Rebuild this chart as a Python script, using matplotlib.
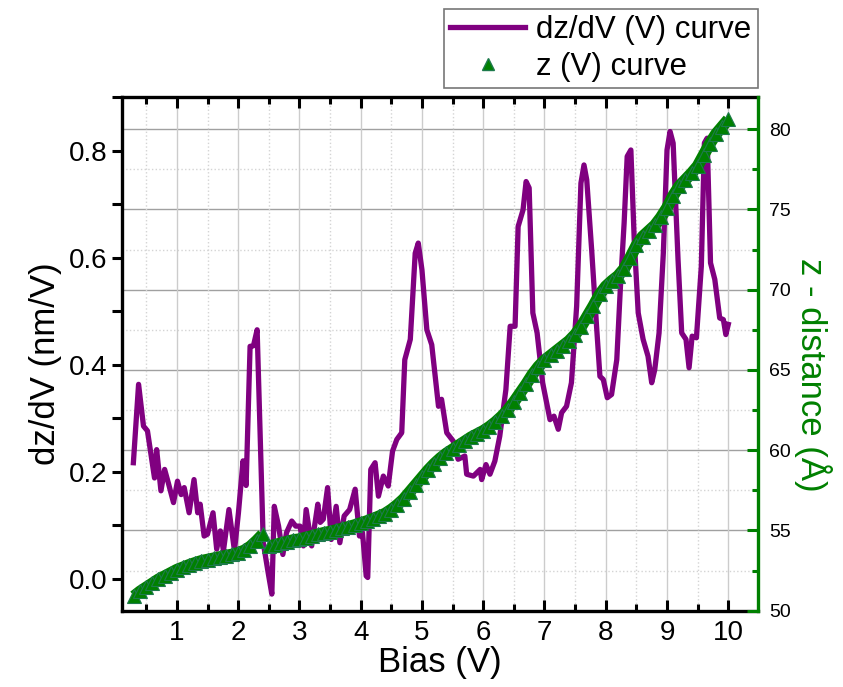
import matplotlib
matplotlib.use("Agg")
import matplotlib.pyplot as plt
from matplotlib.ticker import MultipleLocator
from matplotlib.lines import Line2D

plt.rcParams['font.family'] = ['Liberation Sans', 'DejaVu Sans']

# dz/dV (V) curve
bias_d = [0.29, 0.375, 0.455, 0.52, 0.59, 0.635, 0.67, 0.74, 0.80, 0.86, 0.945,
          1.01, 1.07, 1.12, 1.20, 1.28, 1.34, 1.38, 1.445, 1.50, 1.59, 1.65, 1.71,
          1.76, 1.85, 1.94, 2.005, 2.08, 2.13, 2.195, 2.25, 2.31, 2.41, 2.49, 2.55,
          2.59, 2.66, 2.73, 2.79, 2.875, 2.94, 3.01, 3.065, 3.11, 3.20, 3.30, 3.34,
          3.39, 3.46, 3.52, 3.60, 3.66, 3.73, 3.82, 3.91, 3.98, 4.03, 4.09, 4.115,
          4.165, 4.235, 4.29, 4.37, 4.45, 4.52, 4.59, 4.67, 4.72, 4.81, 4.89, 4.94,
          5.00, 5.08, 5.16, 5.27, 5.32, 5.405, 5.51, 5.59, 5.70, 5.73, 5.84, 5.95,
          5.975, 6.045, 6.11, 6.19, 6.27, 6.37, 6.44, 6.52, 6.57, 6.65, 6.70, 6.75,
          6.81, 6.88, 6.97, 7.09, 7.155, 7.225, 7.28, 7.36, 7.44, 7.525, 7.595,
          7.645, 7.69, 7.77, 7.85, 7.905, 7.96, 8.025, 8.095, 8.18, 8.24, 8.30,
          8.35, 8.41, 8.465, 8.53, 8.61, 8.69, 8.75, 8.80, 8.87, 8.94, 9.00, 9.05,
          9.10, 9.18, 9.24, 9.31, 9.36, 9.41, 9.48, 9.56, 9.61, 9.655, 9.71, 9.78,
          9.86, 9.92, 9.96, 10.0]
dzdv = [0.2165, 0.363, 0.285, 0.276, 0.223, 0.188, 0.241, 0.164, 0.204, 0.179, 0.142,
        0.182, 0.157, 0.170, 0.123, 0.185, 0.123, 0.139, 0.0795, 0.083, 0.123, 0.055, 0.089,
        0.052, 0.129, 0.052, 0.123, 0.220, 0.174, 0.434, 0.435, 0.465, 0.067, 0.011, -0.029,
        0.135, 0.098, 0.045, 0.086, 0.1075, 0.098, 0.098, 0.061, 0.129, 0.061, 0.139, 0.105,
        0.111, 0.170, 0.073, 0.135, 0.067, 0.117, 0.129, 0.167, 0.0795, 0.086, 0.005, 0.002,
        0.204, 0.2165, 0.154, 0.1915, 0.173, 0.238, 0.260, 0.2725, 0.409, 0.447, 0.608, 0.627,
        0.577, 0.465, 0.437, 0.322, 0.335, 0.2725, 0.257, 0.223, 0.229, 0.195, 0.1915, 0.204,
        0.185, 0.213, 0.195, 0.2195, 0.266, 0.353, 0.4715, 0.4715, 0.658, 0.689, 0.742, 0.730,
        0.4965, 0.459, 0.366, 0.297, 0.3035, 0.279, 0.310, 0.322, 0.366, 0.509, 0.739,
        0.773, 0.745, 0.6145, 0.4715, 0.378, 0.372, 0.338, 0.344, 0.409, 0.546, 0.6645,
        0.789, 0.801, 0.633, 0.4965, 0.447, 0.4155, 0.366, 0.3905, 0.459, 0.6085, 0.801, 0.8355,
        0.8138, 0.596, 0.459, 0.447, 0.394, 0.453, 0.450, 0.5835, 0.814, 0.823, 0.590, 0.559,
        0.487, 0.484, 0.456, 0.475]

# z (V) curve
bias_z = [0.3, 0.4, 0.5, 0.6, 0.7, 0.8, 0.9, 1.0, 1.1, 1.2, 1.3, 1.4, 1.5, 1.6, 1.7,
          1.8, 1.9, 2.0, 2.1, 2.2, 2.3, 2.4, 2.5, 2.6, 2.7, 2.8, 2.9, 3.0, 3.1, 3.2,
          3.3, 3.4, 3.5, 3.6, 3.7, 3.8, 3.9, 4.0, 4.1, 4.2, 4.3, 4.4, 4.5, 4.6, 4.7,
          4.8, 4.9, 5.0, 5.1, 5.2, 5.3, 5.4, 5.5, 5.6, 5.7, 5.8, 5.9, 6.0, 6.1, 6.2,
          6.3, 6.4, 6.5, 6.6, 6.7, 6.8, 6.9, 7.0, 7.1, 7.2, 7.3, 7.4, 7.5, 7.6, 7.7,
          7.8, 7.9, 8.0, 8.1, 8.2, 8.3, 8.4, 8.5, 8.6, 8.7, 8.8, 8.9, 9.0, 9.1, 9.2,
          9.3, 9.4, 9.5, 9.6, 9.7, 9.8, 9.9, 10.0]
z_dist = [50.9, 51.2, 51.45, 51.7, 51.95, 52.15, 52.35, 52.55, 52.7, 52.85, 52.98, 53.1,
          53.18, 53.26, 53.34, 53.42, 53.5, 53.6, 53.75, 54.0, 54.35, 54.75, 54.0, 54.1,
          54.2, 54.3, 54.4, 54.45, 54.55, 54.65, 54.75, 54.85, 54.92, 55.02, 55.12, 55.22,
          55.33, 55.45, 55.58, 55.72, 55.88, 56.05, 56.3, 56.6, 56.95, 57.4, 57.85, 58.3,
          58.75, 59.15, 59.5, 59.8, 60.05, 60.3, 60.55, 60.8, 61.0, 61.2, 61.45, 61.75,
          62.1, 62.5, 63.0, 63.55, 64.1, 64.7, 65.2, 65.6, 65.9, 66.2, 66.5, 66.8, 67.2,
          67.7, 68.35, 69.0, 69.7, 70.2, 70.55, 70.85, 71.3, 72.0, 72.75, 73.3, 73.65,
          74.0, 74.5, 75.1, 75.85, 76.45, 76.85, 77.25, 77.7, 78.4, 79.1, 79.7, 80.15, 80.6]
jump = 22  # the z sweep restarts here

purple = '#800080'
green = '#008000'

fig = plt.figure(figsize=(8.43, 6.87), dpi=100)
ax1 = fig.add_axes([0.1444, 0.1111, 0.7544, 0.7477])
ax2 = ax1.twinx()

ax1.set_xlim(0.1, 10.48)
ax1.set_ylim(-0.06, 0.9)
ax2.set_ylim(50, 82)

# grid: vertical from bias ticks, horizontal from the right axis ticks
ax1.xaxis.set_major_locator(MultipleLocator(1))
ax1.xaxis.set_minor_locator(MultipleLocator(0.5))
ax1.grid(axis='x', which='major', color='#cccccc', lw=1.0, zorder=0)
ax1.grid(axis='x', which='minor', color='#d4d4d4', lw=1.0, ls=':', zorder=0)
ax2.yaxis.set_major_locator(MultipleLocator(5))
ax2.yaxis.set_minor_locator(MultipleLocator(2.5))
lo1, hi1 = ax1.get_ylim()
lo2, hi2 = ax2.get_ylim()
for t in ax2.get_yticks(minor=False):
    if lo2 < t < hi2:
        ax1.axhline(lo1 + (t - lo2) / (hi2 - lo2) * (hi1 - lo1), color='#a0a0a0', lw=1.0, zorder=0)
for t in ax2.get_yticks(minor=True):
    if lo2 < t < hi2:
        ax1.axhline(lo1 + (t - lo2) / (hi2 - lo2) * (hi1 - lo1), color='#d4d4d4', lw=1.0, ls=':', zorder=0)

ax1.plot(bias_d, dzdv, color=purple, lw=3.8, zorder=3)
# dense triangles: a green band under the markers, broken at the restart
for sl in (slice(0, jump), slice(jump, None)):
    ax2.plot(bias_z[sl], z_dist[sl], color=green, lw=8.5, solid_capstyle='butt', zorder=2)
ax2.plot(bias_z, z_dist, ls='none', marker='^', ms=10, mfc=green, mec='#1d7a4c',
         mew=0.8, zorder=3)

ax1.yaxis.set_major_locator(MultipleLocator(0.2))
ax1.yaxis.set_minor_locator(MultipleLocator(0.1))

for s in ['left', 'bottom', 'top']:
    ax1.spines[s].set_linewidth(2.4)
ax1.spines['right'].set_visible(False)
ax2.spines['left'].set_visible(False)
ax2.spines['top'].set_visible(False)
ax2.spines['bottom'].set_visible(False)
ax2.spines['right'].set_color(green)
ax2.spines['right'].set_linewidth(2.4)

ax1.tick_params(axis='x', which='both', direction='in', top=True, bottom=True, width=2.2,
                labelsize=20, pad=7)
ax1.tick_params(axis='x', which='major', length=8)
ax1.tick_params(axis='x', which='minor', length=5)
ax1.tick_params(axis='y', which='both', direction='out', width=2.2, length=7, labelsize=20)
ax2.tick_params(axis='y', which='both', direction='in', color=green, width=2.2, labelsize=14, pad=8)
ax2.tick_params(axis='y', which='major', length=8)
ax2.tick_params(axis='y', which='minor', length=4)

ax1.set_xticks(range(1, 11))
ax1.set_xlabel('Bias (V)', fontsize=25, labelpad=0)
ax1.set_ylabel('dz/dV (nm/V)', fontsize=25, labelpad=5)
ax2.set_ylabel('z - distance (Å)', fontsize=25, color=green, rotation=270, labelpad=30)
ax1.yaxis.label.set_y(0.48)
ax2.yaxis.label.set_y(0.46)

h1 = Line2D([], [], color=purple, lw=3.8)
h2 = Line2D([], [], ls='none', marker='^', ms=8, mfc=green, mec='#1d7a4c')
leg = fig.legend([h1, h2], ['dz/dV (V) curve', 'z (V) curve'], loc='lower right',
                 bbox_to_anchor=(0.8988, 0.872), fontsize=22.5, frameon=True, fancybox=False,
                 edgecolor='#555555', handlelength=2.4, borderpad=0.2, labelspacing=0.2,
                 handletextpad=0.35, borderaxespad=0)
leg.get_frame().set_linewidth(1.2)

fig.savefig('out.png', dpi=100)
